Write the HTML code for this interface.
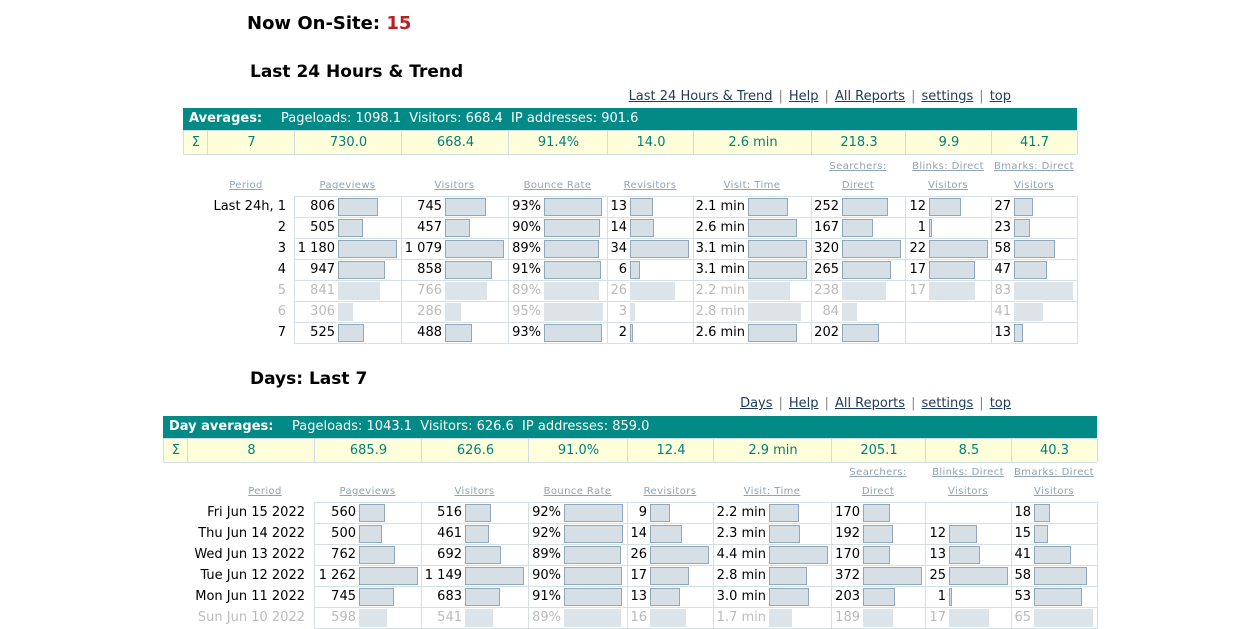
<!DOCTYPE html>
<html><head><meta charset="utf-8">
<style>
body{margin:0;width:1260px;height:629px;background:#fff;font-family:"DejaVu Sans","Liberation Sans",sans-serif;font-size:13px;color:#000;position:relative;overflow:hidden}
.a{position:absolute;white-space:nowrap}
h1,h2{margin:0;font-weight:bold;position:absolute;white-space:nowrap}
h1{font-size:18px}
h2{font-size:17px}
.links{position:absolute;font-size:13px;color:#1e3a5c;text-align:right;white-space:nowrap}
.links span.l{text-decoration:underline}
.links span.s{color:#888;margin:0 6px}
.hdr{position:absolute;background:#028a86;color:#fff;height:22px;line-height:22px;font-size:13px;white-space:nowrap}
.sig{position:absolute;background:#ffffdc;height:23px;border-top:1px solid #cfdde4;border-bottom:1px solid #cfdde4}
.sc{position:absolute;top:0;height:23px;line-height:23px;text-align:center;color:#00807a;border-left:1px solid #cfdde4;box-sizing:border-box}
.cl{position:absolute;font-size:10px;color:#8fa3b3;text-decoration:underline;text-align:center;letter-spacing:.4px;white-space:nowrap}
.cell{position:absolute;height:21px;border:1px solid #d3e0e6;box-sizing:border-box}
.num{position:absolute;top:0;line-height:19px;text-align:right;white-space:nowrap}
.bar{position:absolute;top:1px;height:18px;background:#d5dfe5;border:1px solid #8fa9bb;box-sizing:border-box}
.g .num{color:#bbb}
.g .bar{border:none;background:#dce4ea}
.per{position:absolute;text-align:right;line-height:21px;white-space:nowrap}
</style></head>
<body>
<h1 class="a" style="left:247px;top:13px">Now On-Site: <span style="color:#b82025">15</span></h1>

<h2 style="left:250px;top:62px">Last 24 Hours &amp; Trend</h2>
<div class="links" style="right:249px;top:89px"><span class="l">Last 24 Hours &amp; Trend</span><span class="s">|</span><span class="l">Help</span><span class="s">|</span><span class="l">All Reports</span><span class="s">|</span><span class="l">settings</span><span class="s">|</span><span class="l">top</span></div>

<h2 style="left:250px;top:369px">Days: Last 7</h2>
<div class="links" style="right:249px;top:396px"><span class="l">Days</span><span class="s">|</span><span class="l">Help</span><span class="s">|</span><span class="l">All Reports</span><span class="s">|</span><span class="l">settings</span><span class="s">|</span><span class="l">top</span></div>

<script>
// ---- Table 1 data ----
const t1Periods = ["Last 24h, 1","2","3","4","5","6","7"];
const t1Gray = [false,false,false,false,true,true,false];
const t1Pageviews = [806,505,1180,947,841,306,525];
const t1Visitors = [745,457,1079,858,766,286,488];
const t1Bounce = [93,90,89,91,89,95,93];
const t1Revisitors = [13,14,34,6,26,3,2];
const t1VisitTime = [2.1,2.6,3.1,3.1,2.2,2.8,2.6];
const t1Direct = [252,167,320,265,238,84,202];
const t1Blinks = [12,1,22,17,17,null,null];
const t1Bmarks = [27,23,58,47,83,41,13];
const t1Sigma = ["7","730.0","668.4","91.4%","14.0","2.6 min","218.3","9.9","41.7"];
// ---- Table 2 data ----
const t2Periods = ["Fri Jun 15 2022","Thu Jun 14 2022","Wed Jun 13 2022","Tue Jun 12 2022","Mon Jun 11 2022","Sun Jun 10 2022"];
const t2Gray = [false,false,false,false,false,true];
const t2Pageviews = [560,500,762,1262,745,598];
const t2Visitors = [516,461,692,1149,683,541];
const t2Bounce = [92,92,89,90,91,89];
const t2Revisitors = [9,14,26,17,13,16];
const t2VisitTime = [2.2,2.3,4.4,2.8,3.0,1.7];
const t2Direct = [170,192,170,372,203,189];
const t2Blinks = [null,12,13,25,1,17];
const t2Bmarks = [18,15,41,58,53,65];
const t2Sigma = ["8","685.9","626.6","91.0%","12.4","2.9 min","205.1","8.5","40.3"];

const colNames = ["pageviews","visitors","bounce-rate","revisitors","visit-time","direct","blinks","bmarks"];
const colLabels1 = ["Pageviews","Visitors","Bounce Rate","Revisitors","Visit: Time","Direct","Visitors","Visitors"];
const colLabels0 = ["","","","","","Searchers:","Blinks: Direct","Bmarks: Direct"];

function fmt(v,c){
  if(c===2) return v+"%";
  if(c===4) return v.toFixed(1)+" min";
  return String(v).replace(/\B(?=(\d{3})+(?!\d))/g," ");
}
function mk(cls,name,inter,parent){
  const e=document.createElement('div');
  e.className=cls;
  
  
  (parent||document.body).appendChild(e);
  return e;
}
function build(p){
  const cols=p.cols, L=cols[0], R=cols[cols.length-1];
  const h=mk('hdr',p.id+'-averages-header',false);
  h.style.left=L+'px';h.style.top=p.hy+'px';h.style.width=(R-L)+'px';
  h.innerHTML='<b style="margin-left:6px">'+p.htitle+'</b><span style="position:absolute;left:'+p.hx+'px">'+p.htext+'</span>';
  const s=mk('sig',p.id+'-sigma-row',false);
  s.style.left=L+'px';s.style.top=(p.hy+22)+'px';s.style.width=(R-L)+'px';
  for(let i=0;i<cols.length-1;i++){
    const c=mk('sc',p.id+'-sigma-'+i,false,s);
    c.style.left=(cols[i]-L)+'px';c.style.width=(cols[i+1]-cols[i]+1)+'px';
    c.textContent=i===0?'Σ':p.sigma[i-1];
  }
  s.lastChild.style.borderRight='1px solid #cfdde4';
  const pl=mk('cl',p.id+'-period-label',true);
  pl.textContent='Period';pl.style.left=(p.perRight-75)+'px';pl.style.width='70px';pl.style.top=(p.ry-16)+'px';
  const dc=cols.slice(2);
  for(let c=0;c<8;c++){
    const a=dc[c],b=dc[c+1];
    const l=mk('cl',p.id+'-col-label-'+colNames[c],true);
    l.textContent=colLabels1[c];l.style.left=a+'px';l.style.width=(b-a)+'px';l.style.top=(p.ry-16)+'px';
    if(colLabels0[c]){
      const l0=mk('cl',p.id+'-col-label-top-'+colNames[c],true);
      l0.textContent=colLabels0[c];l0.style.left=a+'px';l0.style.width=(b-a)+'px';l0.style.top=(p.ry-35)+'px';
    }
  }
  const series=p.series;
  const maxes=series.map(sr=>Math.max(...sr.filter(v=>v!=null)));
  for(let r=0;r<p.periods.length;r++){
    const y=p.ry+r*21;
    const per=mk('per'+(p.gray[r]?' g':''),p.id+'-period-'+r,false);
    per.textContent=p.periods[r];per.style.left=(p.perRight-200)+'px';per.style.width='200px';per.style.top=y+'px';
    if(p.gray[r]) per.style.color='#bbb';
    for(let c=0;c<8;c++){
      const a=dc[c],b=dc[c+1];
      const cell=mk('cell'+(p.gray[r]?' g':''),p.id+'-cell-'+colNames[c]+'-'+r,false);
      cell.style.left=a+'px';cell.style.top=y+'px';cell.style.width=(b-a+1)+'px';cell.style.height='22px';
      const v=series[c][r];
      if(v==null) continue;
      const off=p.off[c];
      const n=mk('num',p.id+'-value-'+colNames[c]+'-'+r,false,cell);
      n.textContent=fmt(v,c);n.style.right=(b-a-off+3)+'px';
      const bar=mk('bar',p.id+'-bar-'+colNames[c]+'-'+r,false,cell);
      bar.style.left=(off-1)+'px';
      bar.style.width=Math.max(3,Math.round(v/maxes[c]*59))+'px';
    }
  }
}
build({id:'t1',cols:[183,207,294,401,508,607,693,811,905,991,1077],hy:108,hx:98,
  htitle:'Averages:',htext:'Pageloads: 1098.1&nbsp; Visitors: 668.4&nbsp; IP addresses: 901.6',
  sigma:t1Sigma,ry:196,perRight:286,periods:t1Periods,gray:t1Gray,
  off:[44,44,36,23,55,31,24,23],
  series:[t1Pageviews,t1Visitors,t1Bounce,t1Revisitors,t1VisitTime,t1Direct,t1Blinks,t1Bmarks]});
build({id:'t2',cols:[163,187,314,421,528,627,713,831,925,1011,1097],hy:416,hx:129,
  htitle:'Day averages:',htext:'Pageloads: 1043.1&nbsp; Visitors: 626.6&nbsp; IP addresses: 859.0',
  sigma:t2Sigma,ry:502,perRight:305,periods:t2Periods,gray:t2Gray,
  off:[45,44,36,23,56,32,24,23],
  series:[t2Pageviews,t2Visitors,t2Bounce,t2Revisitors,t2VisitTime,t2Direct,t2Blinks,t2Bmarks]});
</script>
</body></html>
